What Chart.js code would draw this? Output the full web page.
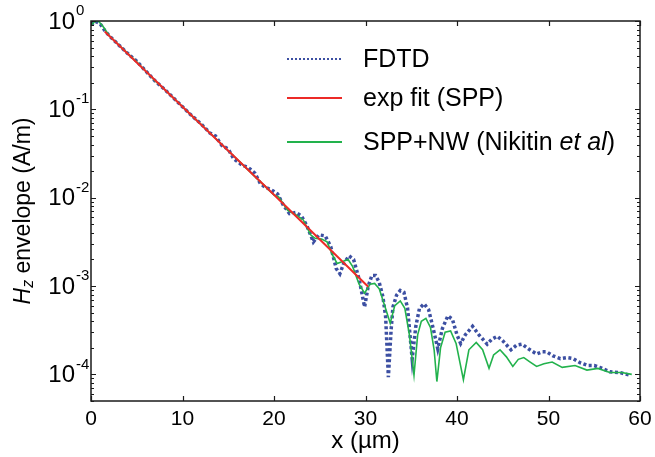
<!DOCTYPE html>
<html>
<head>
<meta charset="utf-8">
<script src="https://cdn.jsdelivr.net/npm/chart.js@4.4.0/dist/chart.umd.min.js"></script>
<style>
  html, body { margin: 0; padding: 0; background: #fff; }
</style>
</head>
<body>
<canvas id="myChart" width="655" height="457"></canvas>
<script>
// values (x in µm, Hz envelope in A/m)
const fdtdX = [0, 0.5, 1.0, 1.5, 2.0, 3.0, 4.0, 5.0, 6.0, 7.0, 8.0, 9.0, 10.0, 11.0, 12.0, 13.0, 13.6, 14.3, 15.0, 15.6,
  16.5, 17.2, 17.9, 18.5, 19.0, 19.7, 20.4, 21.0, 21.7, 22.4, 23.0, 23.6, 24.3, 24.9, 25.6, 26.2, 26.8, 27.2, 27.6, 28.2,
  28.7, 29.3, 29.9, 30.3, 30.7, 31.1, 31.5, 31.9, 32.2, 32.5, 32.8, 33.0, 33.4, 33.8, 34.2, 34.6, 35.1, 35.5, 35.9, 36.4,
  36.9, 37.4, 37.9, 38.4, 39.0, 39.5, 40.0, 40.4, 40.9, 41.7, 42.4, 43.3, 43.8, 44.4, 45.0, 45.9, 46.5, 47.1, 47.8, 48.7,
  49.3, 49.8, 50.5, 51.3, 52.0, 52.7, 53.5, 54.3, 55.0, 55.6, 56.7, 57.8, 58.9];
const fdtdY = [0.91, 0.99, 0.93, 0.78, 0.68, 0.54, 0.43, 0.35, 0.27, 0.21, 0.17, 0.135, 0.107, 0.085, 0.069, 0.054, 0.05, 0.039, 0.0355, 0.0275,
  0.0234, 0.0219, 0.019, 0.0145, 0.0132, 0.0123, 0.011, 0.0083, 0.0066, 0.0068, 0.0062, 0.0048, 0.00316, 0.0038, 0.0037, 0.0028, 0.00158, 0.00138, 0.00178, 0.0022,
  0.002, 0.0012, 0.00058, 0.001, 0.00132, 0.00132, 0.0011, 0.00076, 0.00045, 0.000093, 0.00032, 0.00058, 0.00079, 0.00089, 0.00085, 0.00056, 0.00015, 0.00035, 0.00056, 0.00063,
  0.00054, 0.00033, 0.000195, 0.00033, 0.00046, 0.00042, 0.00028, 0.000224, 0.00028, 0.00035, 0.00028, 0.00022, 0.00025, 0.00027, 0.00024, 0.00019, 0.000214, 0.00022, 0.000195, 0.00017,
  0.00018, 0.00018, 0.000162, 0.000151, 0.000155, 0.000151, 0.000135, 0.000126, 0.000126, 0.00012, 0.000107, 0.000105, 0.000098];

const fitX = [1.5, 10, 20, 30.3];
const fitY = [0.76, 0.107, 0.0108, 0.00098];

const nwX = [0, 0.4, 0.8, 1.3, 2.0, 3, 4, 5, 6, 7, 8, 9, 10, 11, 12, 13, 14, 15, 16, 17, 18, 19, 20,
  20.5, 21.5, 22.5, 23.2, 24.0, 24.5, 25.2, 25.8, 26.4, 26.9, 27.5, 28.1, 28.6, 29.3, 29.9, 30.5, 31.0, 31.5, 32.1, 32.7,
  33.2, 33.8, 34.3, 34.8, 35.3, 35.7, 36.1, 36.6, 37.1, 37.5, 37.8, 38.2, 38.7, 39.3, 39.9, 40.7, 41.3, 42.1, 42.8, 43.5,
  44.0, 44.7, 45.4, 46.1, 46.7, 47.3, 48.0, 48.7, 49.5, 50.4, 51.5, 52.9, 54.2, 55.4, 56.7, 58.0, 59.1];
const nwY = [0.89, 0.98, 1.0, 0.87, 0.68, 0.54, 0.43, 0.345, 0.27, 0.21, 0.17, 0.135, 0.107, 0.085, 0.068, 0.054, 0.043, 0.034, 0.027, 0.0215, 0.017, 0.0135, 0.0107,
  0.0102, 0.0072, 0.0063, 0.0056, 0.0038, 0.00347, 0.0034, 0.00316, 0.00224, 0.0018, 0.0019, 0.002, 0.00166, 0.00105, 0.00083, 0.00105, 0.00107, 0.00093, 0.0006, 0.00038,
  0.0006, 0.00068, 0.00056, 0.00028, 0.000098, 0.00028, 0.0004, 0.00043, 0.00034, 0.00019, 0.000083, 0.0002, 0.0003, 0.00031, 0.000224, 0.000087, 0.00019, 0.00023, 0.00019, 0.000117,
  0.000166, 0.00019, 0.000158, 0.000123, 0.000148, 0.000155, 0.000138, 0.000123, 0.000132, 0.000138, 0.00012, 0.000126, 0.000112, 0.000117, 0.000105, 0.000105, 0.0001];

const xTicks = [0, 10, 20, 30, 40, 50, 60];
const yTickExps = [0, -1, -2, -3, -4];

const BLUE = '#3c4fa2';
const RED = '#ec2a27';
const GREEN = '#22b24c';
const FONT = '"Liberation Sans", Arial, sans-serif';

function pts(xs, ys) {
  return xs.map((x, i) => ({ x: x, y: ys[i] }));
}

// draws a run of [text, style] pieces starting at x
function drawRun(ctx, parts, x, y, size) {
  parts.forEach(p => {
    ctx.font = (p[1] || '') + ' ' + size + 'px ' + FONT;
    ctx.fillText(p[0], x, y);
    x += ctx.measureText(p[0]).width;
  });
}

const decorations = {
  id: 'decorations',
  afterDraw(chart) {
    const { ctx, chartArea: a, scales: { x, y } } = chart;
    ctx.save();
    ctx.strokeStyle = '#1a1a1a';
    ctx.fillStyle = '#000';

    // frame
    ctx.lineWidth = 1.5;
    ctx.strokeRect(a.left, a.top, a.right - a.left, a.bottom - a.top);

    // inward ticks
    ctx.lineWidth = 1.2;
    ctx.beginPath();
    xTicks.forEach(v => {
      const px = Math.round(x.getPixelForValue(v)) + 0.5;
      ctx.moveTo(px, a.bottom); ctx.lineTo(px, a.bottom - 5);
      ctx.moveTo(px, a.top); ctx.lineTo(px, a.top + 5);
    });
    for (let d = -5; d <= 0; d++) {
      for (let k = 1; k <= 9; k++) {
        const v = k * Math.pow(10, d);
        if (v < y.min || v > y.max) continue;
        const py = Math.round(y.getPixelForValue(v)) + 0.5;
        const len = k === 1 ? 5 : 3;
        ctx.moveTo(a.left, py); ctx.lineTo(a.left + len, py);
        ctx.moveTo(a.right, py); ctx.lineTo(a.right - len, py);
      }
    }
    ctx.stroke();

    // x tick labels
    ctx.textAlign = 'center';
    ctx.textBaseline = 'middle';
    ctx.font = '21px ' + FONT;
    xTicks.forEach(v => ctx.fillText(String(v), x.getPixelForValue(v), a.bottom + 18));

    // y tick labels 10^n
    yTickExps.forEach(e => {
      const py = y.getPixelForValue(Math.pow(10, e));
      ctx.textAlign = 'right';
      ctx.textBaseline = 'middle';
      ctx.font = '24px ' + FONT;
      ctx.fillText('10', 75, py + 1);
      ctx.textAlign = 'left';
      ctx.font = '15px ' + FONT;
      ctx.fillText(e === 0 ? '0' : '-' + Math.abs(e), 76, py - 10);
    });

    // x title
    ctx.textAlign = 'center';
    ctx.textBaseline = 'middle';
    ctx.font = '24px ' + FONT;
    ctx.fillText('x (µm)', (a.left + a.right) / 2, a.bottom + 40);

    // y title, rotated
    ctx.save();
    ctx.translate(24, (a.top + a.bottom) / 2);
    ctx.rotate(-Math.PI / 2);
    ctx.textAlign = 'left';
    ctx.textBaseline = 'middle';
    ctx.font = 'italic 23px ' + FONT;
    const wH = ctx.measureText('H').width;
    ctx.font = 'italic 16px ' + FONT;
    const wz = ctx.measureText('z').width;
    ctx.font = '23px ' + FONT;
    const wRest = ctx.measureText(' envelope (A/m)').width;
    let tx = -(wH + wz + wRest) / 2;
    ctx.font = 'italic 23px ' + FONT;
    ctx.fillText('H', tx, 0);
    tx += wH;
    ctx.font = 'italic 16px ' + FONT;
    ctx.fillText('z', tx, 5);
    tx += wz;
    ctx.font = '23px ' + FONT;
    ctx.fillText(' envelope (A/m)', tx, 0);
    ctx.restore();

    // legend
    const items = [
      { color: BLUE, dash: [2, 2], width: 2, y: 59, parts: [['FDTD']] },
      { color: RED, dash: [], width: 2, y: 98, parts: [['exp fit (SPP)']] },
      { color: GREEN, dash: [], width: 2, y: 142, parts: [['SPP+NW (Nikitin '], ['et al', 'italic'], [')']] }
    ];
    items.forEach(it => {
      ctx.beginPath();
      ctx.strokeStyle = it.color;
      ctx.lineWidth = it.width;
      ctx.setLineDash(it.dash);
      ctx.moveTo(287, it.y);
      ctx.lineTo(342, it.y);
      ctx.stroke();
      ctx.setLineDash([]);
      ctx.textAlign = 'left';
      ctx.textBaseline = 'middle';
      drawRun(ctx, it.parts, 363, it.y + 1, 25);
    });
    ctx.restore();
  }
};

const ctx = document.getElementById('myChart');
new Chart(ctx, {
  type: 'line',
  data: {
    datasets: [
      {
        label: 'exp fit (SPP)',
        data: pts(fitX, fitY),
        borderColor: RED,
        borderWidth: 2,
        pointRadius: 0,
        order: 0
      },
      {
        label: 'SPP+NW (Nikitin et al)',
        data: pts(nwX, nwY),
        borderColor: GREEN,
        borderWidth: 1.6,
        pointRadius: 0,
        order: 1
      },
      {
        label: 'FDTD',
        data: pts(fdtdX, fdtdY),
        borderColor: BLUE,
        borderWidth: 3.5,
        borderDash: [3, 2.5],
        pointRadius: 0,
        order: 2
      }
    ]
  },
  options: {
    responsive: false,
    maintainAspectRatio: false,
    animation: false,
    parsing: false,
    layout: { padding: { left: 91, right: 15, top: 21, bottom: 56 } },
    plugins: { legend: { display: false }, tooltip: { enabled: false } },
    scales: {
      x: { type: 'linear', min: 0, max: 60, display: false },
      y: { type: 'logarithmic', min: 5e-5, max: 1, display: false }
    }
  },
  plugins: [decorations]
});
</script>
</body>
</html>
